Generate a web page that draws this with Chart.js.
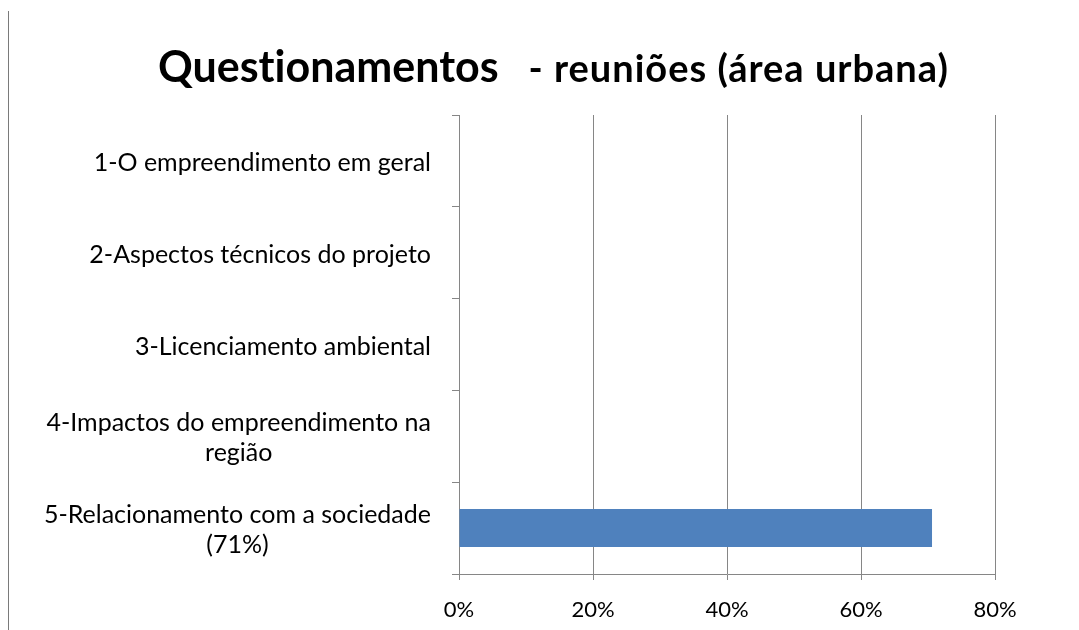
<!DOCTYPE html>
<html>
<head>
<meta charset="utf-8">
<script src="https://cdn.jsdelivr.net/npm/chart.js@4"></script>
<style>
  html, body { margin: 0; padding: 0; background: #fff; }
  #wrap { position: relative; width: 1079px; height: 630px; }
  #frame { position: absolute; left: 8px; top: 11px; bottom: 0; width: 1px; background: #7a7a7a; }
  #title { position: absolute; left: 158px; top: 44px; white-space: nowrap; font-family: Lato, sans-serif;
           font-weight: bold; line-height: 43px; color: #000; font-variant-ligatures: none; }
  #title .main { font-size: 43px; }
  #title .sub { font-size: 38px; letter-spacing: 1px; margin-left: 26px; }
</style>
</head>
<body>
<div id="wrap">
  <div id="frame"></div>
  <canvas id="chart"></canvas>
  <div id="title"><span class="main">Questionamentos</span> <span class="sub">- reuniões (área urbana)</span></div>
</div>
<script>
// categories (multi-line ones as arrays)
const categories = [
    '1-O empreendimento em geral',
    '2-Aspectos técnicos do projeto',
    '3-Licenciamento ambiental',
    ['4-Impactos do empreendimento na', 'região'],
    ['5-Relacionamento com a sociedade', '(71%)']
];
const shares = [0, 0, 0, 0, 70.6];   // percent
const xTicks = [0, 20, 40, 60, 80];

const GRID = '#868686';
const LABEL_FONT = '25px Lato';

// Excel-style category labels: block right-aligned, lines centred inside the block
const catLabels = {
    id: 'catLabels',
    afterDraw(chart) {
        const { ctx, scales: { y } } = chart;
        const right = 431, lh = 30;
        ctx.save();
        ctx.font = LABEL_FONT;
        ctx.fillStyle = '#000';
        ctx.textAlign = 'center';
        ctx.textBaseline = 'middle';
        categories.forEach((c, i) => {
            const lines = Array.isArray(c) ? c : [c];
            const w = Math.max(...lines.map(l => ctx.measureText(l).width));
            const cx = right - w / 2;
            const cy = y.getPixelForTick(i) + 2;
            lines.forEach((l, j) => {
                ctx.fillText(l, cx, cy + (j - (lines.length - 1) / 2) * lh);
            });
        });
        ctx.restore();
    }
};

new Chart(document.getElementById('chart'), {
    type: 'bar',
    data: {
        labels: categories,
        datasets: [{
            data: shares,
            backgroundColor: '#4f81bd',
            borderWidth: 0,
            categoryPercentage: 1,
            barPercentage: 0.414
        }]
    },
    options: {
        indexAxis: 'y',
        responsive: true,
        maintainAspectRatio: false,
        animation: false,
        layout: { padding: { left: 0, right: 84, top: 115, bottom: 0 } },
        plugins: { legend: { display: false }, tooltip: { enabled: false }, title: { display: false } },
        scales: {
            x: {
                min: 0, max: 80,
                afterBuildTicks: s => { s.ticks = xTicks.map(v => ({ value: v })); },
                afterFit: s => { s.height = 56; },
                ticks: { callback: v => v + '%', color: '#000', font: { family: 'Lato', size: 22 }, padding: 17, maxRotation: 0 },
                grid: { color: GRID, lineWidth: 1, tickLength: 6 },
                border: { color: GRID, width: 1 }
            },
            y: {
                afterFit: s => { s.width = 459; },
                ticks: { display: false },
                grid: { color: GRID, lineWidth: 1, tickLength: 7, offset: true, drawOnChartArea: false },
                border: { color: GRID, width: 1 }
            }
        }
    },
    plugins: [catLabels]
});
</script>
</body>
</html>
